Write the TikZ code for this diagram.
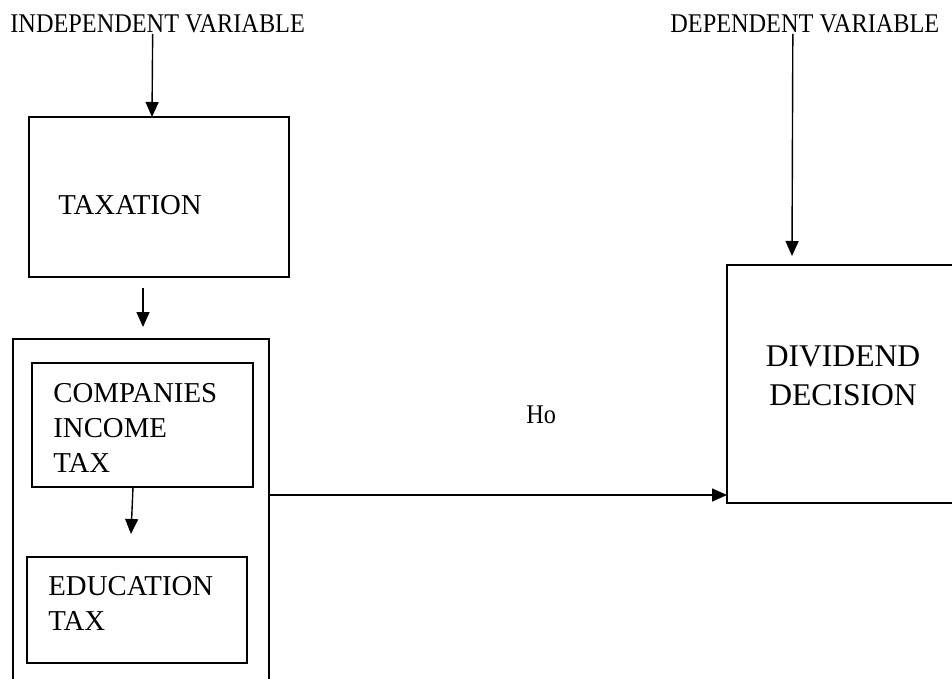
\documentclass[tikz,border=0pt]{standalone}
\usepackage{fontspec}
\setmainfont{Liberation Serif}
\newfontfamily\headfont[FakeStretch=0.9]{Liberation Serif}
\usetikzlibrary{arrows.meta}
\begin{document}
\begin{tikzpicture}[x=0.5pt,y=-0.5pt,
    box/.style={draw,line width=1pt,rectangle,inner sep=0pt,outer sep=0pt,anchor=north west},
    word/.style={inner sep=0pt,anchor=base west,font=\fontsize{14.4}{17.5}\selectfont,align=left},
    head/.style={inner sep=0pt,anchor=base west,font=\headfont\fontsize{13.5}{16}\selectfont},
    arr/.style={line width=0.7pt,-{Triangle[width=6.5pt,length=7.5pt]}}]
  \clip (0,0) rectangle (952,679);
  \fill[white] (0,0) rectangle (952,679);
  \node[head] (indep) at (10,33) {INDEPENDENT VARIABLE};
  \node[head] (dep) at (670,33) {DEPENDENT VARIABLE};
  \node[box,minimum width=130pt,minimum height=80pt] (tax) at (29,117) {};
  \node[box,minimum width=128pt,minimum height=190pt] (grp) at (13,339) {};
  \node[box,minimum width=110.5pt,minimum height=62pt] (cit) at (32,363) {};
  \node[box,minimum width=110pt,minimum height=53pt] (edu) at (27,557) {};
  \node[box,minimum width=150pt,minimum height=119pt] (div) at (727,265) {};
  \node[word] (taxt) at (58,215) {TAXATION};
  \node[word] (citt) at (53,472) {COMPANIES\\INCOME\\TAX};
  \node[word] (edut) at (48,630) {EDUCATION\\TAX};
  \node[inner sep=0pt,anchor=base,align=center,font=\fontsize{15.8}{19.5}\selectfont]
    (divt) at (843,405) {DIVIDEND\\DECISION};
  \node[head] (ho) at (526,423) {Ho};
  \draw[arr] ([xshift=-2.5pt]indep.south) -- ([xshift=-3.5pt]tax.north);
  \draw[arr] ([xshift=-8pt,yshift=-5.5pt]tax.south) -- ([xshift=1pt,yshift=6pt]grp.north);
  \draw[arr] ([xshift=-4.75pt]cit.south) -- ([xshift=-3pt,yshift=11.5pt]edu.north);
  \draw[arr] ([yshift=-78pt]grp.north east) -- ([yshift=4pt]div.south west);
  \draw[arr] ([xshift=-6pt]dep.south) -- ([xshift=32.5pt,yshift=4.5pt]div.north west);
\end{tikzpicture}
\end{document}
